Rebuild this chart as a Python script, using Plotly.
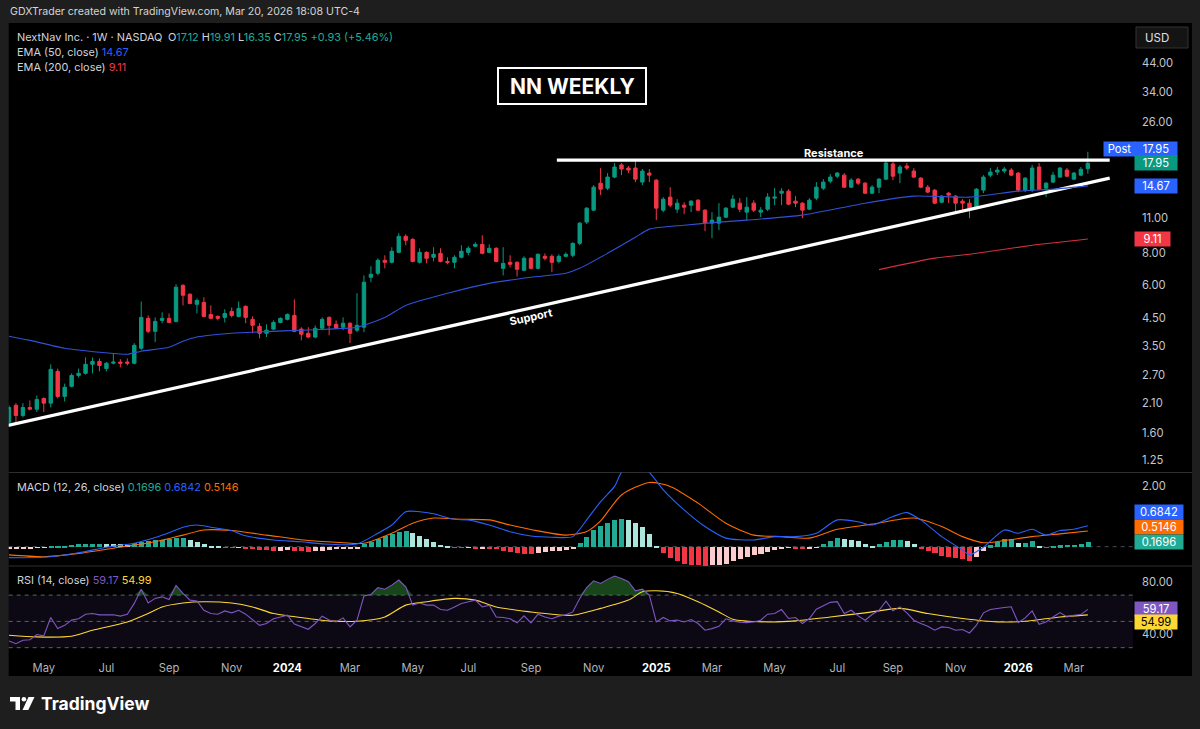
import math
import pandas as pd
import plotly.graph_objects as go

W, H = 1200, 729
def px(x): return x / W
def py(y): return 1 - y / H

# ---------------- DATA ----------------
first_week = "2023-03-27"
n_weeks = 156
weeks = pd.date_range(first_week, periods=n_weeks, freq="7D")

opens = [1.76,2.05,1.87,2.01,1.98,2.18,2.09,2.78,2.22,2.43,2.68,2.73,2.96,3.04,2.85,2.99,3.02,3.02,2.99,3.42,
         4.47,3.98,4.39,4.47,4.35,6.01,5.55,5.07,5.16,4.63,4.55,4.51,4.76,4.55,4.98,4.43,4.16,3.91,4.06,4.31,
         4.43,4.59,4.06,3.91,3.78,4.09,4.51,4.24,4.13,4.28,4.02,4.13,6.46,6.70,7.52,7.39,8.08,9.33,9.08,7.39,
         8.08,7.73,8.01,7.45,7.39,7.73,8.08,8.53,8.68,8.08,8.38,7.00,7.39,7.39,6.88,7.66,7.00,7.80,7.80,7.45,
         7.80,7.87,8.76,10.6,11.8,15.03,14.37,15.87,17.7,17.21,17.21,15.17,16.45,15.44,11.8,13.26,11.9,12.34,12.34,12.9,
         11.8,10.5,10.5,11.08,12.12,12.56,11.59,12.56,11.59,11.9,13.14,13.74,13.99,12.79,12.56,11.9,13.14,14.37,15.3,16.0,
         16.15,14.5,15.58,15.03,13.74,14.5,15.58,17.85,16.45,17.53,16.75,15.72,14.5,14.12,12.67,13.74,13.38,12.79,12.56,12.01,
         14.12,16.15,16.6,16.75,16.9,16.45,14.12,14.12,17.37,14.37,15.17,15.87,16.9,15.58,16.15,17.12]
highs = [2.05,2.09,2.09,2.14,2.24,2.20,2.96,2.85,2.49,2.73,2.85,3.15,3.15,3.12,3.02,3.27,3.10,3.12,3.58,5.20,
         4.59,4.51,4.72,4.67,6.07,6.07,5.60,5.35,5.40,5.02,4.59,4.85,4.93,5.20,5.02,4.55,4.28,4.24,4.39,4.51,
         4.67,5.30,4.13,4.13,4.20,4.51,4.55,4.39,4.51,4.31,5.60,6.57,7.13,7.66,7.87,8.46,9.60,9.50,9.17,8.38,
         8.16,8.46,8.38,7.73,7.87,8.61,8.53,8.84,9.42,8.68,8.46,8.46,7.87,7.45,7.80,7.73,8.01,8.01,7.94,7.94,
         8.08,8.84,10.6,12.12,14.77,17.21,16.45,18.0,18.0,17.53,18.5,17.06,17.06,15.58,13.26,14.5,13.02,12.67,12.9,13.02,
         11.9,11.59,12.56,12.12,13.5,13.14,13.26,12.9,12.12,13.74,14.37,14.37,14.24,13.38,12.67,13.14,15.17,15.58,16.3,16.6,
         16.45,15.72,15.72,15.17,14.77,15.72,18.33,18.17,17.7,18.0,17.21,15.87,14.77,14.24,13.5,13.87,13.5,13.02,13.02,14.37,
         16.15,17.21,17.37,17.37,17.21,16.6,15.87,17.7,18.0,15.17,16.6,17.37,17.21,16.6,17.37,19.91]
lows = [1.73,1.76,1.84,1.96,1.93,1.93,2.01,2.18,2.12,2.41,2.63,2.70,2.73,2.78,2.78,2.96,2.88,2.93,2.96,3.36,
        3.91,3.61,4.28,4.28,4.31,5.02,5.07,4.67,4.51,4.43,4.39,4.31,4.51,4.51,4.28,3.91,3.74,3.78,4.02,4.28,
        4.39,3.95,3.67,3.74,3.74,4.02,3.84,4.06,4.02,3.58,3.95,3.95,6.18,6.57,7.00,7.32,8.01,8.61,7.39,7.32,
        7.32,7.45,7.39,7.26,7.00,7.66,7.87,8.46,7.94,8.01,7.39,6.57,7.06,6.51,6.82,6.94,6.94,7.52,6.76,7.32,
        7.73,7.73,8.61,10.41,11.69,13.5,14.12,15.72,16.15,16.45,15.17,14.77,15.17,10.79,11.59,12.12,11.48,11.38,11.59,11.69,
        9.77,9.17,9.86,10.98,12.01,11.59,10.79,11.59,11.08,11.69,12.34,12.34,12.34,12.12,10.98,11.8,12.9,14.12,15.03,15.72,
        14.37,14.37,14.77,13.62,13.62,13.74,15.44,15.44,15.03,16.9,15.72,14.37,13.74,12.45,12.56,12.56,11.48,11.8,10.98,11.9,
        13.74,15.87,16.15,16.45,16.0,13.87,13.87,13.87,14.12,13.26,15.03,15.8,15.87,15.44,16.0,16.35]
closes = [2.01,1.87,2.01,1.98,2.16,2.09,2.83,2.22,2.41,2.68,2.73,2.96,3.04,2.93,2.99,3.02,2.99,2.99,3.51,4.51,
          3.98,4.35,4.47,4.31,5.91,5.50,5.11,5.25,4.55,4.47,4.47,4.67,4.59,4.89,4.51,4.20,3.91,4.02,4.31,4.47,
          4.63,3.98,3.88,3.78,4.09,4.43,4.20,4.09,4.28,3.91,4.20,6.18,6.64,7.52,7.39,8.16,9.33,9.00,7.45,8.08,
          7.66,7.94,7.45,7.39,7.73,8.16,8.38,8.68,8.01,8.38,7.45,7.32,7.26,6.94,7.66,7.00,7.94,7.66,7.39,7.80,
          7.94,8.76,10.5,12.01,14.5,14.24,15.87,17.37,17.06,16.9,15.58,16.75,16.15,12.01,13.02,12.34,12.56,12.12,12.79,11.8,
          10.5,10.79,11.08,12.01,13.02,11.9,12.12,11.8,11.8,13.26,13.26,13.99,12.45,12.56,11.8,12.9,14.5,15.17,15.87,16.45,
          14.5,15.44,15.03,13.74,14.5,15.58,18.0,16.0,17.37,17.21,15.87,14.5,13.87,12.56,13.38,13.5,12.56,12.56,12.01,14.24,
          15.87,16.6,16.9,17.06,16.15,14.12,15.72,17.21,14.24,15.03,16.15,17.21,16.0,16.45,17.02,17.95]

# EMA readings (week index, value)
ema50_idx = [0,3,8,13,17,19,23,25,27,32,37,42,46,50,54,57,63,69,75,80,82,86,90,92,97,102,106,114,123,130,138,145,150,155]
ema50_val = [3.81,3.67,3.42,3.30,3.24,3.33,3.45,3.64,3.78,3.91,3.97,4.02,4.06,4.13,4.51,5.02,5.60,6.12,6.46,6.70,
             7.00,8.01,9.25,9.95,10.31,10.60,10.79,11.28,12.56,13.38,13.26,13.99,14.24,14.67]
ema200_idx = [125,133,138,147,155]
ema200_val = [6.92,7.67,7.94,8.61,9.11]

# Trend lines (drawings)
support_dates = ["2023-03-26", "2026-04-07"]
support_prices = [1.711, 15.72]
resist_dates = ["2024-09-28", "2026-04-07"]
resist_prices = [18.47, 18.47]

# MACD
macd_idx = [0,5,10,14,18,21,23,25,27,29,32,34,38,42,45,50,53,55,57,59,61,64,66,69,72,75,78,81,83,85,87,88,90,92,
            94,97,100,103,107,110,113,116,119,122,124,127,129,131,134,137,138,140,143,145,147,149,151,153,155]
macd_val = [-0.36,-0.35,-0.20,-0.02,0.11,0.30,0.46,0.64,0.71,0.64,0.52,0.36,0.22,0.16,0.09,0.09,0.44,0.71,1.15,1.15,
            1.08,0.90,0.88,0.71,0.49,0.35,0.31,0.33,0.88,1.48,1.98,2.44,2.80,2.44,1.87,1.21,0.66,0.28,0.22,0.33,
            0.33,0.44,0.88,0.82,0.71,0.99,1.12,0.88,0.33,-0.11,-0.27,-0.02,0.55,0.44,0.57,0.38,0.53,0.57,0.6842]
signal_idx = [0,5,10,15,21,25,28,32,37,43,48,51,55,58,61,65,69,72,76,80,83,85,88,92,95,99,103,107,111,115,119,124,
              130,134,137,140,143,147,151,155]
signal_val = [-0.27,-0.33,-0.22,-0.05,0.16,0.38,0.55,0.53,0.38,0.20,0.13,0.11,0.44,0.77,0.94,0.90,0.88,0.71,0.52,0.38,
              0.50,0.85,1.70,2.11,1.98,1.43,0.77,0.38,0.33,0.28,0.57,0.74,0.94,0.66,0.33,0.13,0.20,0.33,0.42,0.5146]
macd_hist = [-0.06,-0.05,-0.04,-0.03,-0.02,-0.01,0.02,0.04,0.05,0.07,0.09,0.10,0.11,0.12,0.11,0.10,0.09,0.08,0.13,0.17,
             0.20,0.22,0.24,0.26,0.29,0.30,0.25,0.18,0.10,0.04,0.01,-0.01,-0.02,-0.02,-0.03,-0.05,-0.08,-0.10,-0.12,-0.11,
             -0.10,-0.13,-0.14,-0.15,-0.13,-0.11,-0.09,-0.07,-0.06,-0.05,-0.03,0.10,0.18,0.27,0.36,0.44,0.50,0.54,0.45,0.36,
             0.26,0.18,0.08,0.01,-0.01,-0.02,-0.02,-0.03,-0.03,-0.05,-0.07,-0.12,-0.16,-0.19,-0.21,-0.22,-0.18,-0.15,-0.13,-0.12,
             -0.10,-0.05,0.15,0.35,0.55,0.68,0.79,0.90,0.93,0.90,0.80,0.66,0.44,0.02,-0.18,-0.35,-0.46,-0.55,-0.58,-0.60,
             -0.61,-0.60,-0.58,-0.55,-0.47,-0.39,-0.33,-0.27,-0.22,-0.16,-0.09,-0.03,-0.02,-0.03,-0.05,-0.03,-0.01,0.10,0.20,0.30,
             0.28,0.25,0.20,0.12,0.05,0.09,0.18,0.22,0.24,0.20,0.10,-0.04,-0.12,-0.20,-0.28,-0.33,-0.37,-0.40,-0.47,-0.33,
             -0.12,0.06,0.17,0.27,0.28,0.13,0.13,0.20,0.05,-0.02,0.01,0.06,0.08,0.08,0.10,0.1696]

# RSI
rsi = [35,33,35.6,36,40,39,53,44.5,47,51,52,55.5,56,55,55,55,54,55.5,63.7,74.5,
       64,67.5,68.7,66.7,77.4,71.3,66.2,65.6,58.5,56,55.5,58,56.5,58.5,55.5,51.4,47,48.4,52,53.4,
       54.7,48,45.8,44,48.4,54,51,49.6,52.7,45.8,51,69.3,70.5,75.8,74.5,77.6,81.5,76.4,62.4,64,
       62.4,62.4,59,58.5,61,63.7,65,66.2,61,62.4,53.4,53,52,48.9,54.2,48.9,55.5,53.4,52,54,
       55,57.2,67.4,75.8,80.9,78.9,82,84.5,82.7,80.2,73.3,74.5,70,49.6,53,50.4,51,49.6,51.4,48.4,
       43.3,44.5,46.3,52,50.4,49.3,49.1,49.6,50.9,55.5,56,59,52.2,53,48.4,52.2,59.3,61.9,64.5,65,
       56,58.5,54.2,50.9,55.2,58.5,65.4,58,61.1,56.5,50.9,48.4,46.3,43.3,45.8,45.3,43.3,43.8,41.2,47.1,
       56.5,59,59.9,60.6,61.1,49,52.7,58,47.8,49.6,53.4,56.7,53.4,54.7,55.2,59.17]
rsi_ma_idx = [0,4,9,12,17,20,22,25,28,32,35,38,43,46,50,54,57,60,64,67,70,75,78,81,85,89,91,93,96,99,102,104,109,
              113,118,123,128,132,137,142,146,151,155]
rsi_ma_val = [39.5,38.2,38.7,43.3,49.6,56,61,64,65,64,61,56,52.2,50.4,50.1,53.4,62.4,65,67.5,66.2,61,57.2,55.5,54.7,
              59.9,66.2,72.5,73.3,71.3,65,57.2,51.6,49.6,50.4,53.4,56.5,59.9,56,52.2,49.6,50.1,53.4,54.99]

price_ticks = [1.25, 1.6, 2.1, 2.7, 3.5, 4.5, 6, 8, 11, 26, 34, 44]
month_tick_idx = [5,14,23,32,40,49,58,66,75,84,93,101,110,119,127,136,145,153]
month_tick_text = ["May","Jul","Sep","Nov","2024","Mar","May","Jul","Sep","Nov","2025","Mar","May","Jul","Sep","Nov","2026","Mar"]

# ---------------- STYLE ----------------
FONT = "Inter, Roboto, sans-serif"
GREEN = "#089981"
RED = "#f23645"
BLUE = "#2962ff"
ORANGE = "#ff6d00"
PURPLE = "#7e57c2"
YELLOW = "#fdd835"
AXIS_TXT = "#c3c6ce"

fig = go.Figure()

# Price pane
fig.add_trace(go.Scatter(x=list(support_dates), y=support_prices, mode="lines",
                         line=dict(color="white", width=3.2), xaxis="x", yaxis="y", hoverinfo="skip"))
fig.add_trace(go.Scatter(x=list(resist_dates), y=resist_prices, mode="lines",
                         line=dict(color="white", width=3.2), xaxis="x", yaxis="y", hoverinfo="skip"))
fig.add_trace(go.Scatter(x=[weeks[i] for i in ema50_idx], y=ema50_val, mode="lines",
                         line=dict(color="#2f52d8", width=1.1, shape="spline", smoothing=0.6),
                         xaxis="x", yaxis="y"))
fig.add_trace(go.Scatter(x=[weeks[i] for i in ema200_idx], y=ema200_val, mode="lines",
                         line=dict(color="#d3303d", width=1.1, shape="spline", smoothing=0.6),
                         xaxis="x", yaxis="y"))
fig.add_trace(go.Candlestick(x=weeks, open=opens, high=highs, low=lows, close=closes,
                             increasing=dict(line=dict(color=GREEN, width=1), fillcolor=GREEN),
                             decreasing=dict(line=dict(color=RED, width=1), fillcolor=RED),
                             whiskerwidth=0, xaxis="x", yaxis="y"))

# MACD pane
hist_colors = []
for i, v in enumerate(macd_hist):
    prev = macd_hist[i - 1] if i > 0 else v
    if v >= 0:
        hist_colors.append("#22ab94" if v >= prev else "#ace5dc")
    else:
        hist_colors.append("#fccbcd" if v >= prev else "#f23645")
fig.add_trace(go.Bar(x=weeks, y=macd_hist, marker=dict(color=hist_colors, line=dict(width=0)),
                     width=0.72 * 7 * 86400000, xaxis="x", yaxis="y2"))
fig.add_trace(go.Scatter(x=[weeks[i] for i in signal_idx], y=signal_val, mode="lines",
                         line=dict(color=ORANGE, width=1.1, shape="spline", smoothing=0.7),
                         xaxis="x", yaxis="y2"))
fig.add_trace(go.Scatter(x=[weeks[i] for i in macd_idx], y=macd_val, mode="lines",
                         line=dict(color=BLUE, width=1.1, shape="spline", smoothing=0.7),
                         xaxis="x", yaxis="y2"))

# RSI pane
fig.add_trace(go.Scatter(x=weeks, y=[70] * n_weeks, mode="lines", line=dict(width=0, color="rgba(0,0,0,0)"),
                         xaxis="x", yaxis="y3", hoverinfo="skip"))
fig.add_trace(go.Scatter(x=weeks, y=[max(v, 70) for v in rsi], mode="lines", line=dict(width=0, color="rgba(0,0,0,0)"),
                         fill="tonexty", fillcolor="rgba(46,125,50,0.55)", xaxis="x", yaxis="y3", hoverinfo="skip"))
fig.add_trace(go.Scatter(x=[weeks[i] for i in rsi_ma_idx], y=rsi_ma_val, mode="lines",
                         line=dict(color=YELLOW, width=1.1, shape="spline", smoothing=0.7),
                         xaxis="x", yaxis="y3"))
fig.add_trace(go.Scatter(x=weeks, y=rsi, mode="lines", line=dict(color=PURPLE, width=1.1),
                         xaxis="x", yaxis="y3"))

# ---------------- LAYOUT ----------------
x0 = pd.Timestamp(first_week) + pd.Timedelta(days=-0.04 * 7)
x1 = pd.Timestamp(first_week) + pd.Timedelta(days=161.49 * 7)
XD = [px(8.7), px(1133)]

def fmt(v):
    return f"{v:.2f}"

fig.update_layout(
    width=W, height=H, margin=dict(l=0, r=0, t=0, b=0),
    paper_bgcolor="#1e1e1e", plot_bgcolor="rgba(0,0,0,0)",
    showlegend=False, font=dict(family=FONT, color=AXIS_TXT),
    xaxis=dict(domain=XD, range=[x0, x1], type="date", anchor="y3",
               showgrid=False, zeroline=False, showline=False, ticks="",
               tickvals=[weeks[i] for i in month_tick_idx],
               ticktext=[f"<b><span style='color:#ffffff'>{t}</span></b>" if t.isdigit() else t for t in month_tick_text],
               tickfont=dict(size=11.2, color="#b2b5be", family=FONT),
               ticklabelstandoff=8, rangeslider=dict(visible=False)),
    yaxis=dict(domain=[py(472.5), py(23)], type="log", range=[math.log10(1.122), math.log10(63.2)],
               side="right", anchor="x", showgrid=False, zeroline=False, showline=False, ticks="",
               tickvals=price_ticks, ticktext=[fmt(v) for v in price_ticks],
               tickfont=dict(size=11.2, color=AXIS_TXT), ticklabelstandoff=8),
    yaxis2=dict(domain=[py(566), py(472.5)], range=[-0.636, 2.438], side="right", anchor="x",
                showgrid=False, zeroline=False, showline=False, ticks="",
                tickvals=[2], ticktext=["2.00"], tickfont=dict(size=11.2, color=AXIS_TXT),
                ticklabelstandoff=8),
    yaxis3=dict(domain=[py(652), py(566.5)], range=[26.7, 91.8], side="right", anchor="x",
                showgrid=False, zeroline=False, showline=False, ticks="",
                tickvals=[40, 80], ticktext=["40.00", "80.00"], tickfont=dict(size=11.2, color=AXIS_TXT),
                ticklabelstandoff=8),
    bargap=0,
)

shapes = []
shapes.append(dict(type="rect", xref="paper", yref="paper", x0=px(8.7), x1=px(1192), y0=py(676), y1=py(23),
                   fillcolor="#000000", line=dict(width=0), layer="below"))
for yy in (472.5, 566):
    shapes.append(dict(type="line", xref="paper", yref="paper", x0=px(8.7), x1=px(1192), y0=py(yy), y1=py(yy),
                       line=dict(color="#2e2e2e", width=1), layer="below"))
shapes.append(dict(type="rect", xref="paper", yref="y3", x0=XD[0], x1=XD[1], y0=30, y1=70,
                   fillcolor="rgba(126,87,194,0.10)", line=dict(width=0), layer="below"))
for lv in (30, 50, 70):
    shapes.append(dict(type="line", xref="paper", yref="y3", x0=XD[0], x1=XD[1], y0=lv, y1=lv,
                       line=dict(color="#5d606b", width=1, dash="4px,4px"), layer="below"))
shapes.append(dict(type="line", xref="paper", yref="y2", x0=XD[0], x1=XD[1], y0=0, y1=0,
                   line=dict(color="#4a4c55", width=1, dash="4px,4px"), layer="below"))
shapes.append(dict(type="rect", xref="paper", yref="paper", x0=px(498), x1=px(646), y0=py(104), y1=py(68),
                   fillcolor="#000000", line=dict(color="white", width=2)))
shapes.append(dict(type="rect", xref="paper", yref="paper", x0=px(1136), x1=px(1188), y0=py(48), y1=py(27),
                   fillcolor="#141414", line=dict(color="#333333", width=1)))
# TradingView logo mark
shapes.append(dict(type="rect", xref="paper", yref="paper", x0=px(10), x1=px(20), y0=py(701.5), y1=py(697),
                   fillcolor="white", line=dict(width=0)))
shapes.append(dict(type="rect", xref="paper", yref="paper", x0=px(15.5), x1=px(20), y0=py(710), y1=py(697),
                   fillcolor="white", line=dict(width=0)))
shapes.append(dict(type="circle", xref="paper", yref="paper", x0=px(21.6), x1=px(26.2), y0=py(701.6), y1=py(697),
                   fillcolor="white", line=dict(width=0)))
shapes.append(dict(type="path", xref="paper", yref="paper",
                   path=f"M {px(28.5)},{py(697)} L {px(34.5)},{py(697)} L {px(28.3)},{py(710)} L {px(22.5)},{py(710)} Z",
                   fillcolor="white", line=dict(width=0)))
fig.update_layout(shapes=shapes)

ann = []
def text(x, y, s, size=12.5, color="#d1d4dc", xanchor="left", bold=False, **kw):
    ann.append(dict(xref="paper", yref="paper", x=px(x), y=py(y), text=(f"<b>{s}</b>" if bold else s),
                    showarrow=False, xanchor=xanchor, yanchor="middle",
                    font=dict(size=size, color=color, family=FONT), **kw))

text(8, 11.5, "GDXTrader created with TradingView.com, Mar 20, 2026 18:08 UTC-4", size=10.6, color="#d4d4d4")
g = "#22ab94"
LS = 10.9
text(15, 37, "NextNav Inc. · 1W · NASDAQ\u2002"
     f"O<span style='color:{g}'>17.12</span> H<span style='color:{g}'>19.91</span> "
     f"L<span style='color:{g}'>16.35</span> C<span style='color:{g}'>17.95</span> "
     f"<span style='color:{g}'>+0.93 (+5.46%)</span>", size=LS)
text(15, 52, f"EMA (50, close) <span style='color:{BLUE}'>14.67</span>", size=LS)
text(15, 66.5, f"EMA (200, close) <span style='color:{RED}'>9.11</span>", size=LS)
text(15, 486.5, f"MACD (12, 26, close) <span style='color:{g}'>0.1696</span> "
     f"<span style='color:{BLUE}'>0.6842</span> <span style='color:{ORANGE}'>0.5146</span>", size=LS)
text(15, 579.5, f"RSI (14, close) <span style='color:{PURPLE}'>59.17</span> "
     f"<span style='color:{YELLOW}'>54.99</span>", size=LS)

text(572, 86.5, "NN WEEKLY", size=21, color="white", xanchor="center", bold=True)
text(834, 152.5, "Resistance", size=11, color="white", xanchor="center", bold=True)
text(530, 316.5, "Support", size=11, color="white", xanchor="center", bold=True, textangle=-12.6)
text(1143, 37.5, "USD", size=11.5, color="#e0e0e0")
text(39, 703.5, "TradingView", size=17.5, color="white", bold=True)

def badge(yref, yv, s, bg, fg="white", width=41, yshift=0, x=1133.5):
    yy = math.log10(yv) if yref == "y" else yv
    ann.append(dict(xref="paper", yref=yref, x=px(x), y=yy, text=s, showarrow=False,
                    xanchor="left", yanchor="middle", bgcolor=bg, width=width, height=13,
                    align="center", borderpad=0.5, yshift=yshift,
                    font=dict(size=11.2, color=fg, family=FONT)))

badge("y", 17.95, "Post", BLUE, width=30, yshift=14, x=1102.5)
badge("y", 17.95, "17.95", BLUE, yshift=14)
badge("y", 17.95, "17.95", GREEN)
badge("y", 14.67, "14.67", BLUE)
badge("y", 9.11, "9.11", RED, width=34)
badge("y2", 0.6842, "0.6842", BLUE, width=47, yshift=14)
badge("y2", 0.5146, "0.5146", ORANGE, width=47, yshift=4)
badge("y2", 0.1696, "0.1696", "#22ab94", width=47)
badge("y3", 59.17, "59.17", PURPLE)
badge("y3", 54.99, "54.99", YELLOW, fg="#000000", yshift=-7.5)

fig.update_layout(annotations=ann)
fig.write_html("out.html", config={"displayModeBar": False},
               post_script="document.body.style.margin='0';document.body.style.padding='0';"
                           "document.body.style.overflow='hidden';document.body.style.background='#1e1e1e';")
